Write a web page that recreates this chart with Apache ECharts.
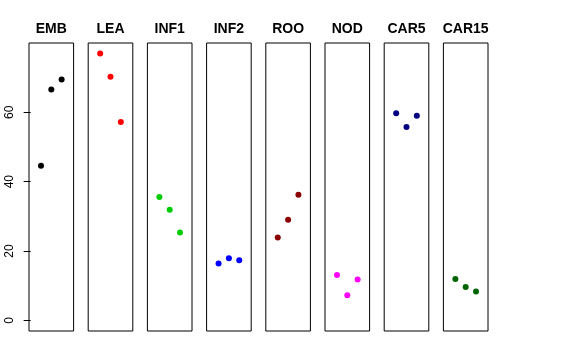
<!DOCTYPE html>
<html><head><meta charset="utf-8">
<script src="https://cdn.jsdelivr.net/npm/echarts@6/dist/echarts.min.js"></script>
<style>html,body{margin:0;padding:0;background:#fff}#c{width:576px;height:360px}</style>
</head><body><div id="c"></div>
<script>
const categories = ['EMB','LEA','INF1','INF2','ROO','NOD','CAR5','CAR15'];
const EMB   = [44.6, 66.6, 69.5];
const LEA   = [77.0, 70.3, 57.2];
const INF1  = [35.6, 31.9, 25.3];
const INF2  = [16.4, 17.9, 17.3];
const ROO   = [23.9, 29.0, 36.2];
const NOD   = [13.1, 7.2, 11.8];
const CAR5  = [59.7, 55.8, 59.0];
const CAR15 = [11.9, 9.6, 8.3];
const seriesValues = [EMB, LEA, INF1, INF2, ROO, NOD, CAR5, CAR15];
const colors = ['#000000','#FF0000','#00CD00','#0000FF','#8B0000','#FF00FF','#000080','#006400'];
const yTicks = [0, 20, 40, 60];

const grids = [], xAxes = [], yAxes = [], series = [];
categories.forEach((name, i) => {
  grids.push({left: 29 + i * 59.2, top: 43, width: 44.6, height: 288,
    show: true, borderColor: '#000', borderWidth: 1, backgroundColor: 'transparent'});
  xAxes.push({gridIndex: i, type: 'value', min: -0.16, max: 4.16, position: 'top',
    name: name, nameLocation: 'middle', nameGap: 7,
    nameTextStyle: {fontFamily: 'Liberation Sans', fontWeight: 'bold', fontSize: 14, color: '#000'},
    axisLine: {show: false}, axisTick: {show: false}, axisLabel: {show: false}, splitLine: {show: false}});
  yAxes.push({gridIndex: i, type: 'value', min: -3.08, max: 80.0,
    axisLine: {show: false},
    axisTick: {show: i === 0, length: 7, inside: false, customValues: yTicks, lineStyle: {color: '#000'}},
    axisLabel: {show: i === 0, customValues: yTicks, rotate: 90, margin: 13,
      fontFamily: 'Liberation Sans', fontSize: 12, color: '#000'},
    splitLine: {show: false}});
  series.push({type: 'scatter', xAxisIndex: i, yAxisIndex: i, symbol: 'circle', symbolSize: 6,
    itemStyle: {color: colors[i], opacity: 1}, silent: true,
    data: seriesValues[i].map((v, k) => [k + 1, v])});
});

const chart = echarts.init(document.getElementById('c'), null, {renderer: 'canvas'});
chart.setOption({animation: false, backgroundColor: '#fff', grid: grids, xAxis: xAxes, yAxis: yAxes, series: series});
</script></body></html>
